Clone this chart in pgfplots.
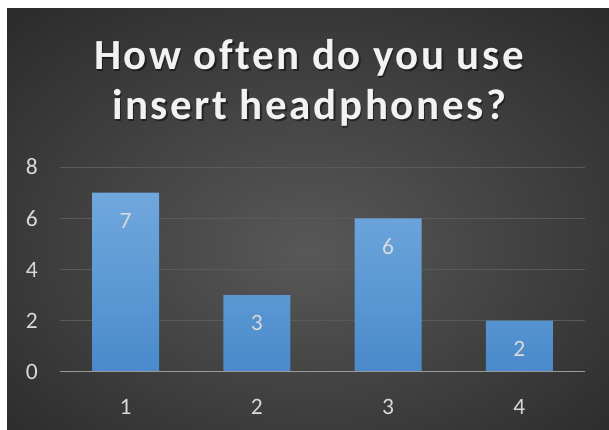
\documentclass[border=0pt]{standalone}
\usepackage{pgfplots}
\pgfplotsset{compat=1.18}
\usepackage{fontspec}
\setmainfont{Carlito}
\newfontfamily\titlefont[LetterSpace=6, Ligatures={NoCommon}]{Carlito}

\definecolor{bgin}{HTML}{585858}
\definecolor{bgout}{HTML}{262626}
\definecolor{gridc}{HTML}{5A5A5A}
\definecolor{axc}{HTML}{9A9A9A}
\definecolor{txt}{HTML}{D9D9D9}
\definecolor{ttl}{HTML}{F2F2F2}
\definecolor{bartop}{HTML}{70A8DD}
\definecolor{barbot}{HTML}{4A8ACB}

\pgfdeclareradialshading{bgshade}{\pgfpoint{0bp}{-4bp}}{%
  color(0bp)=(bgin); color(40bp)=(bgout); color(50bp)=(bgout)}

\begin{document}
\begin{tikzpicture}
  \fill[white] (0pt,0pt) rectangle (609pt,430pt);
  \shade[shading=bgshade] (7pt,0pt) rectangle (609pt,421pt);

  % title with a soft shadow
  \foreach \txt/\yy in {How often do you use/360, insert headphones?/310}{
    \node[anchor=base, black, opacity=0.45, font=\titlefont\bfseries\fontsize{43}{50}\selectfont]
      at (310.5pt,\yy pt-1.5pt) {\txt};
    \node[anchor=base, ttl, font=\titlefont\bfseries\fontsize{43}{50}\selectfont]
      at (309pt,\yy pt) {\txt};
  }

  \begin{axis}[
    at={(60pt,58pt)}, anchor=south west,
    scale only axis,
    width=525pt, height=205pt,
    xmin=0.5, xmax=4.5,
    ymin=0, ymax=8,
    xtick={1,2,3,4},
    ytick={0,2,4,6,8},
    axis line style={draw=none},
    tick style={draw=none},
    ymajorgrids,
    grid style={gridc, line width=1pt},
    /pgf/number format/assume math mode=true,
    ticklabel style={txt, font=\fontsize{23.5}{26}\selectfont, inner sep=0pt},
    yticklabel style={anchor=east, xshift=-22pt},
    xticklabel style={anchor=north, yshift=-23pt},
    ybar, bar width=67pt,
    nodes near coords,
    every node near coord/.append style={txt, font=\fontsize{23.5}{26}\selectfont,
      anchor=center, inner sep=0pt, yshift=-28pt},
  ]
    \addplot[draw=none, top color=bartop, bottom color=barbot]
      coordinates {(1,7) (2,3) (3,6) (4,2)};
    \draw[axc, line width=2pt] (axis cs:0.5,0) -- (axis cs:4.5,0);
  \end{axis}
\end{tikzpicture}
\end{document}
